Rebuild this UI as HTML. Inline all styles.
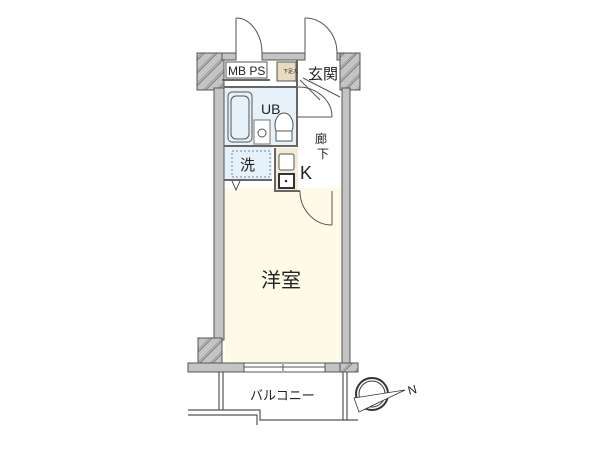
<!DOCTYPE html>
<html><head><meta charset="utf-8"><style>
body{margin:0;background:#fff;width:600px;height:450px;overflow:hidden}
text{font-family:"Liberation Sans","Noto Sans CJK JP",sans-serif;fill:#222}
</style></head><body>
<svg width="600" height="450" viewBox="0 0 600 450">
<defs>
<pattern id="h" width="9" height="9" patternUnits="userSpaceOnUse" patternTransform="rotate(45)">
<rect width="9" height="9" fill="#c4c4c4"/><line x1="0" y1="0" x2="0" y2="9" stroke="#666" stroke-width="0.8"/><line x1="2" y1="0" x2="2" y2="9" stroke="#666" stroke-width="0.8"/></pattern>
</defs>
<rect x="225" y="188" width="117" height="175" fill="#fdfbe8"/>
<rect x="224" y="88" width="73" height="57" fill="#e6f1f9"/>
<rect x="224" y="147" width="48" height="32" fill="#e6f1f9"/>
<rect x="276" y="148" width="22" height="42" fill="#f3ead8"/>
<g fill="#c4c4c4" stroke="#555" stroke-width="1">
<rect x="197" y="53" width="27" height="37" fill="url(#h)"/>
<rect x="222" y="53" width="14" height="7"/>
<rect x="262" y="53" width="43" height="7"/>
<rect x="337" y="53" width="23" height="7"/>
<rect x="340" y="53" width="20" height="37" fill="url(#h)"/>
<rect x="214" y="88" width="10" height="252"/>
<rect x="342" y="88" width="8" height="276"/>
<rect x="198" y="338" width="24" height="34" fill="url(#h)"/>
<rect x="188" y="363" width="56" height="9"/>
<rect x="325" y="363" width="33" height="9"/>
<rect x="340" y="363" width="18" height="9" fill="url(#h)"/>
</g>
<rect x="244" y="363" width="81" height="9" fill="#fff" stroke="#555"/>
<line x1="244" y1="367" x2="325" y2="367" stroke="#555"/>
<line x1="283" y1="364" x2="283" y2="371" stroke="#555"/>
<g stroke="#666" stroke-width="2" fill="none">
<line x1="224" y1="87" x2="297" y2="87"/>
<line x1="297" y1="60" x2="297" y2="145"/>
<line x1="224" y1="146" x2="298" y2="146"/>
<line x1="224" y1="180" x2="272" y2="180"/>
<line x1="275" y1="148" x2="275" y2="192"/>
<line x1="275" y1="191" x2="300" y2="191"/>
<line x1="222" y1="80" x2="270" y2="80"/>
</g>
<g stroke="#555" fill="none" stroke-width="1.2">
<line x1="219" y1="372" x2="219" y2="410"/><line x1="223" y1="372" x2="223" y2="410"/>
<line x1="343" y1="372" x2="343" y2="420"/><line x1="347" y1="372" x2="347" y2="420"/>
<polyline points="188,410 260,410 260,420 358,420"/>
<polyline points="188,415 257,415 257,425"/>
</g>
<text x="250" y="400" font-size="13">バルコニー</text>
<rect x="226" y="62" width="41" height="16" fill="#fff" stroke="#555"/>
<text x="228" y="75" font-size="12">MB PS</text>
<rect x="277" y="62" width="19" height="19" fill="#e8dcc0" stroke="#555"/>
<text x="283" y="73" font-size="5">下足入</text>
<g stroke="#555" fill="none">
<line x1="236" y1="53" x2="236" y2="18"/><path d="M236,18 A26,35 0 0 1 262,53"/>
<line x1="305" y1="53" x2="305" y2="18"/><path d="M305,18 A32,35 0 0 1 337,53"/>
<line x1="298" y1="117" x2="332" y2="117"/>
<path d="M332,117 A34,30 0 0 0 298,87"/>
<line x1="332" y1="191" x2="332" y2="225"/><path d="M300,191 A32,34 0 0 0 332,225"/>
<line x1="300" y1="80" x2="320" y2="100"/><line x1="303" y1="78" x2="340" y2="97"/>
</g>
<rect x="228" y="92" width="24" height="50" rx="4" fill="#e6f1f9" stroke="#555"/>
<rect x="231" y="96" width="18" height="43" rx="5" fill="none" stroke="#555"/>
<rect x="254" y="120" width="16" height="24" fill="#fff" stroke="#777"/>
<circle cx="262" cy="133" r="4" fill="none" stroke="#555"/>
<ellipse cx="284" cy="125" rx="9" ry="12" fill="#fff" stroke="#555"/>
<rect x="276" y="131" width="16" height="10" fill="#fff" stroke="#555"/>
<text x="261" y="114" font-size="14">UB</text>
<rect x="232" y="151" width="38" height="26" fill="none" stroke="#6a8aa8" stroke-dasharray="2,2"/>
<text x="240" y="170" font-size="15">洗</text>
<path d="M232,181 L236,190 L240,181" fill="none" stroke="#555"/>
<rect x="279" y="154" width="15" height="16" rx="2" fill="#fff" stroke="#555"/>
<rect x="279" y="174" width="15" height="14" fill="#fff" stroke="#333" stroke-width="2"/>
<circle cx="286" cy="181" r="1.3" fill="#333"/>
<text x="300" y="179" font-size="18">K</text>
<text x="308" y="79" font-size="15">玄関</text>
<text x="315" y="143" font-size="12">廊</text>
<text x="317" y="158" font-size="12">下</text>
<text x="261" y="287" font-size="20">洋室</text>
<circle cx="372" cy="394" r="16" fill="#fff" stroke="#333" stroke-width="2"/>
<circle cx="372" cy="394" r="13" fill="none" stroke="#333"/>
<polygon points="354,398 405,390 370,397" fill="#222"/>
<polygon points="354,398 405,390 359,412" fill="#fff" stroke="#333" stroke-width="0.8"/>
<text x="408" y="394" font-size="12" transform="rotate(-15 412 390)">N</text>
</svg>
</body></html>
